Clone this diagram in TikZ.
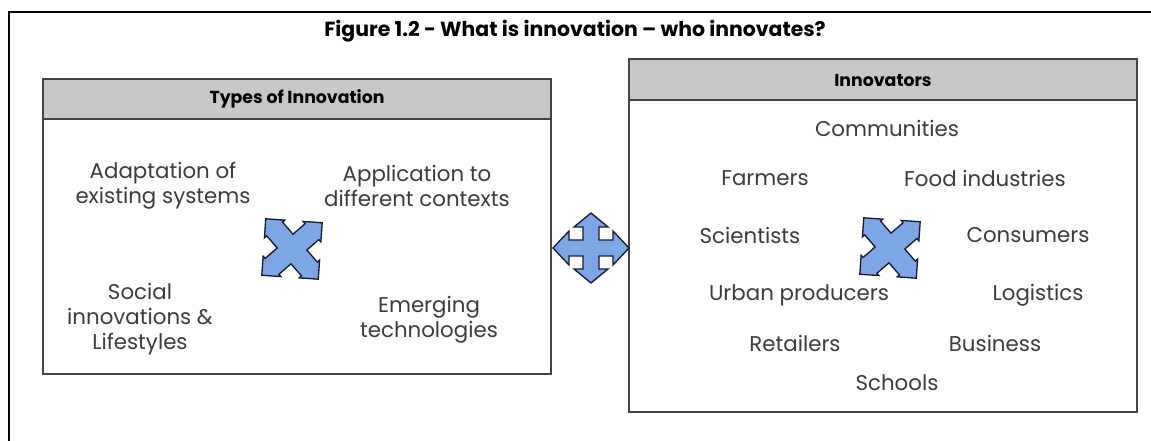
\documentclass[tikz,border=0pt]{standalone}
\usepackage{fontspec}
\setmainfont{Poppins}
\definecolor{txt}{HTML}{3C3C3C}
\definecolor{hdr}{HTML}{C8C8C8}
\definecolor{boxline}{HTML}{444444}
\definecolor{arrowfill}{HTML}{7EA6E6}
\definecolor{arrowline}{HTML}{1A1A2E}
\tikzset{
  body/.style={text=txt, align=center, font=\fontsize{16}{18.75}\selectfont, inner sep=0pt},
  hdrtext/.style={text=black, font=\fontsize{13}{15}\selectfont\bfseries, inner sep=0pt},
  frameline/.style={draw=boxline, line width=1.5pt},
  arrowshape/.style={fill=arrowfill, draw=arrowline, line width=1pt, line join=miter},
  diagarrow/.pic={
    \path[arrowshape] (40,0) -- (26.5,13.5) -- (26.5,10.5) -- (10.5,10.5) -- (10.5,26.5) -- (13.5,26.5) -- (0,40)
      -- (-13.5,26.5) -- (-10.5,26.5) -- (-10.5,10.5) -- (-26.5,10.5) -- (-26.5,13.5) -- (-40,0)
      -- (-26.5,-13.5) -- (-26.5,-10.5) -- (-10.5,-10.5) -- (-10.5,-26.5) -- (-13.5,-26.5) -- (0,-40)
      -- (13.5,-26.5) -- (10.5,-26.5) -- (10.5,-10.5) -- (26.5,-10.5) -- (26.5,-13.5) -- cycle;
  },
  crossarrow/.pic={
    \path[arrowshape] (38,0) -- (22,17) -- (22,8) -- (8,8) -- (8,21) -- (17,21) -- (0,35)
      -- (-17,21) -- (-8,21) -- (-8,8) -- (-22,8) -- (-22,17) -- (-38,0)
      -- (-22,-17) -- (-22,-8) -- (-8,-8) -- (-8,-21) -- (-17,-21) -- (0,-35)
      -- (17,-21) -- (8,-21) -- (8,-8) -- (22,-8) -- (22,-17) -- cycle;
  }
}
\begin{document}
\begin{tikzpicture}[x=0.75pt, y=-0.75pt]
\useasboundingbox[fill=white] (0,0) rectangle (1151,441);
% outer frame (top and left only)
\draw[line width=1.6pt, black] (9,441) -- (9,12) -- (1151,12);
\node[font=\fontsize{15.3}{18}\selectfont\bfseries, inner sep=0pt] (title) at (575,31) {Figure 1.2 - What is innovation – who innovates?};

% left box
\path[fill=hdr] (43,79) rectangle (551,119);
\draw[frameline] (43,79) rectangle (551,374);
\draw[frameline] (43,119) -- (551,119);
\node[hdrtext] (lhead) at (297,99) {Types of Innovation};

% right box
\path[fill=hdr] (629,59) rectangle (1137,100);
\draw[frameline] (629,59) rectangle (1137,412);
\draw[frameline] (629,100) -- (1137,100);
\node[hdrtext] (rhead) at (883,80) {Innovators};

% left box texts
\node[body] (adapt) at (163,186) {Adaptation of\\existing systems};
\node[body] (appl) at (417,186) {Application to\\different contexts};
\node[body] (social) at (140,319) {Social\\innovations \&\\Lifestyles};
\node[body] (emerg) at (429,320) {Emerging\\technologies};
\pic[rotate=41] at (292,249) {diagarrow};

% middle arrow
\pic at (591,248) {crossarrow};

% right box texts
\node[body] (comm) at (887,128) {Communities};
\node[body] (farm) at (765,178) {Farmers};
\node[body] (food) at (985,178) {Food industries};
\node[body] (sci) at (750,235) {Scientists};
\node[body] (cons) at (1028,235) {Consumers};
\node[body] (urban) at (799,295) {Urban producers};
\node[body] (logi) at (1038,295) {Logistics};
\node[body] (ret) at (795,343) {Retailers};
\node[body] (bus) at (995,343) {Business};
\node[body] (school) at (897,383) {Schools};
\pic[rotate=41] at (890,248) {diagarrow};
\end{tikzpicture}
\end{document}
